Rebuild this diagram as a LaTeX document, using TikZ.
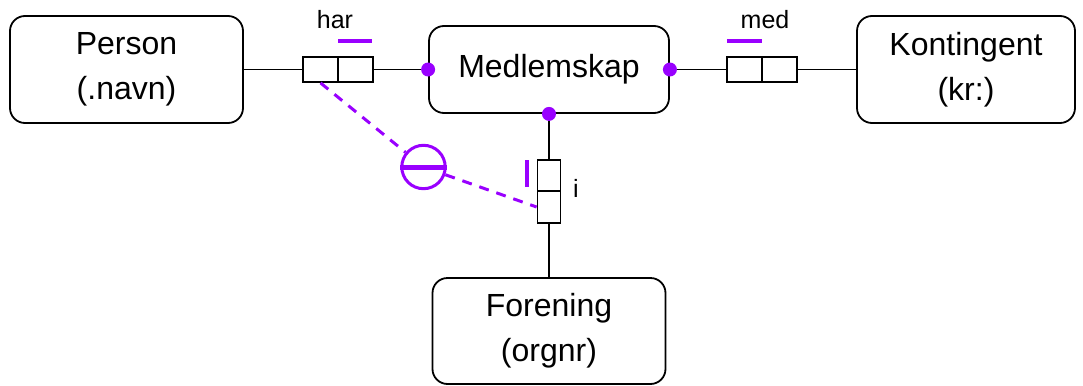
\documentclass[tikz,border=0pt]{standalone}
\usepackage{fontspec}
\setmainfont{Liberation Sans}
\usepackage{tikz}
\definecolor{vio}{RGB}{153,0,255}

\begin{document}
\begin{tikzpicture}[x=0.5pt,y=-0.5pt,
  ent/.style={draw,rounded corners=7.5pt,line width=0.9pt,align=center,minimum width=116.5pt,minimum height=53.5pt,font=\fontsize{16}{22.5}\selectfont},
  cell/.style={draw,line width=0.9pt,inner sep=0pt,minimum width=17.5pt,minimum height=12.5pt},
  vcell/.style={cell,minimum width=11.5pt,minimum height=15.8pt},
  pin/.style={circle,fill=vio,inner sep=0pt,minimum size=7pt},
  uniq/.style={vio,line width=2pt},
  lbl/.style={font=\fontsize{12.5}{14}\selectfont},
  conn/.style={line width=0.9pt},
  excl/.style={vio,line width=1.5pt,dash pattern=on 5pt off 4pt}]
\useasboundingbox (0,0) rectangle (1083,386);
% entities
\node[ent] (person) at (126.5,69.5) {Person\\(.navn)};
\node[ent,minimum width=120pt,minimum height=43.5pt] (medl) at (549,69.5) {Medlemskap};
\node[ent,minimum width=109pt] (kont) at (966,69.5) {Kontingent\\(kr:)};
\node[ent,minimum height=53pt] (foren) at (549,331) {Forening\\(orgnr)};
% role boxes
\node[cell] (har1) at (320.5,69.5) {};
\node[cell] (har2) at (355.5,69.5) {};
\node[cell] (med1) at (744.5,69.5) {};
\node[cell] (med2) at (779.5,69.5) {};
\node[vcell] (i1) at (549,175.5) {};
\node[vcell] (i2) at (549,207) {};
% role names
\node[lbl] (harl) at (335,20) {har};
\node[lbl] (medl2) at (765,20) {med};
\node[lbl] (il) at (576,188) {i};
% connectors
\draw[conn] (person.east) -- (har1.west);
\draw[conn] (har2.east) -- (medl.west);
\draw[conn] (medl.east) -- (med1.west);
\draw[conn] (med2.east) -- (kont.west);
\draw[conn] (medl.south) -- (i1.north);
\draw[conn] (i2.south) -- (foren.north);
\node[pin] (p1) at (medl.west) {};
\node[pin] (p2) at (medl.east) {};
\node[pin] (p3) at (medl.south) {};
% uniqueness bars
\coordinate (u1a) at (338,41);
\coordinate (u1b) at (372,41);
\coordinate (u2a) at (727,41);
\coordinate (u2b) at (762,41);
\coordinate (u3a) at (527,160);
\coordinate (u3b) at (527,187);
\draw[uniq] (u1a) -- (u1b);
\draw[uniq] (u2a) -- (u2b);
\draw[uniq] (u3a) -- (u3b);
% exclusion constraint
\node[circle,draw=vio,line width=1.5pt,minimum size=21.7pt,inner sep=0pt] (xc) at (423.5,167) {};
\draw[vio,line width=2.5pt] (xc.west) -- (xc.east);
\draw[excl] (har1.south) -- (xc);
\draw[excl] (xc) -- (i2.west);
\end{tikzpicture}
\end{document}
